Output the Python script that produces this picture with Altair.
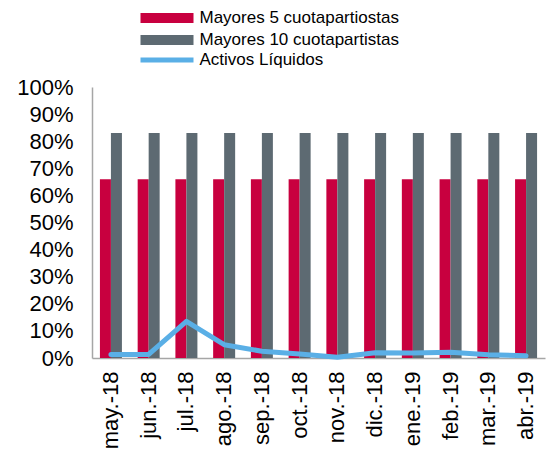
import altair as alt
import pandas as pd

months = ["may.-18", "jun.-18", "jul.-18", "ago.-18", "sep.-18", "oct.-18",
          "nov.-18", "dic.-18", "ene.-19", "feb.-19", "mar.-19", "abr.-19"]
top5 = [66, 66, 66, 66, 66, 66, 66, 66, 66, 66, 66, 66]
top10 = [83, 83, 83, 83, 83, 83, 83, 83, 83, 83, 83, 83]
liquid = [1.3, 1.3, 13.5, 4.9, 2.5, 1.5, 0.3, 1.9, 1.8, 2.1, 1.2, 0.8]
y_ticks = [0, 10, 20, 30, 40, 50, 60, 70, 80, 90, 100]

s5 = "Mayores 5 cuotapartiostas"
s10 = "Mayores 10 cuotapartistas"
sl = "Activos Líquidos"

bars = pd.DataFrame({
    "mes": months * 2,
    "serie": [s5] * len(months) + [s10] * len(months),
    "valor": top5 + top10,
})
line = pd.DataFrame({"mes": months, "serie": [sl] * len(months), "valor": liquid})

FONT = "Liberation Sans"
RECT = "M-5.3,-1H5.3V1H-5.3Z"
STROKE = "M-5.3,0H5.3"

legend_common = dict(title=None, orient="none", symbolSize=100, labelFontSize=17,
                     labelFont=FONT, labelColor="#000000", labelOffset=24,
                     labelLimit=0, padding=0, rowPadding=4, legendX=66.5)

x_axis = alt.Axis(labelAngle=-90, labelFontSize=22, labelFont=FONT,
                  labelColor="#000000", labelPadding=13, ticks=False,
                  labelOverlap=False, domainColor="#a6a6a6", domainWidth=1.5)
y_axis = alt.Axis(values=y_ticks, labelExpr="datum.value + '%'",
                  labelFontSize=22, labelFont=FONT, labelColor="#000000",
                  labelPadding=19, ticks=False, grid=False, labelOverlap=False,
                  domainColor="#a6a6a6", domainWidth=1.5)
x_scale = alt.Scale(paddingInner=0.417, paddingOuter=0.21)
y_scale = alt.Scale(domain=[0, 100], nice=False)

bar_chart = alt.Chart(bars).mark_bar().encode(
    x=alt.X("mes:N", sort=months, title=None, scale=x_scale, axis=x_axis),
    xOffset=alt.XOffset("serie:N", sort=[s5, s10]),
    y=alt.Y("valor:Q", scale=y_scale, title=None, axis=y_axis),
    color=alt.Color("serie:N", sort=[s5, s10],
                    scale=alt.Scale(domain=[s5, s10], range=["#c8003f", "#5d6a72"]),
                    legend=alt.Legend(symbolType=RECT, symbolStrokeWidth=0,
                                      legendY=-77.5, **legend_common)),
)

line_chart = alt.Chart(line).mark_line(strokeWidth=5, strokeCap="round", strokeJoin="round").encode(
    x=alt.X("mes:N", sort=months, title=None, scale=x_scale, axis=x_axis),
    y=alt.Y("valor:Q", scale=y_scale, title=None, axis=y_axis),
    stroke=alt.Stroke("serie:N",
                      scale=alt.Scale(domain=[sl], range=["#5aafe6"]),
                      legend=alt.Legend(symbolType=STROKE, symbolStrokeWidth=5,
                                        legendY=-35.5, **legend_common)),
)

chart = alt.layer(bar_chart, line_chart).properties(
    width=453, height=271,
    autosize=alt.AutoSizeParams(type="none"),
    padding={"left": 84, "top": 79, "right": 2, "bottom": 90},
).configure_view(stroke=None)

chart.save("out.html", embed_options={"renderer": "svg", "actions": False})
